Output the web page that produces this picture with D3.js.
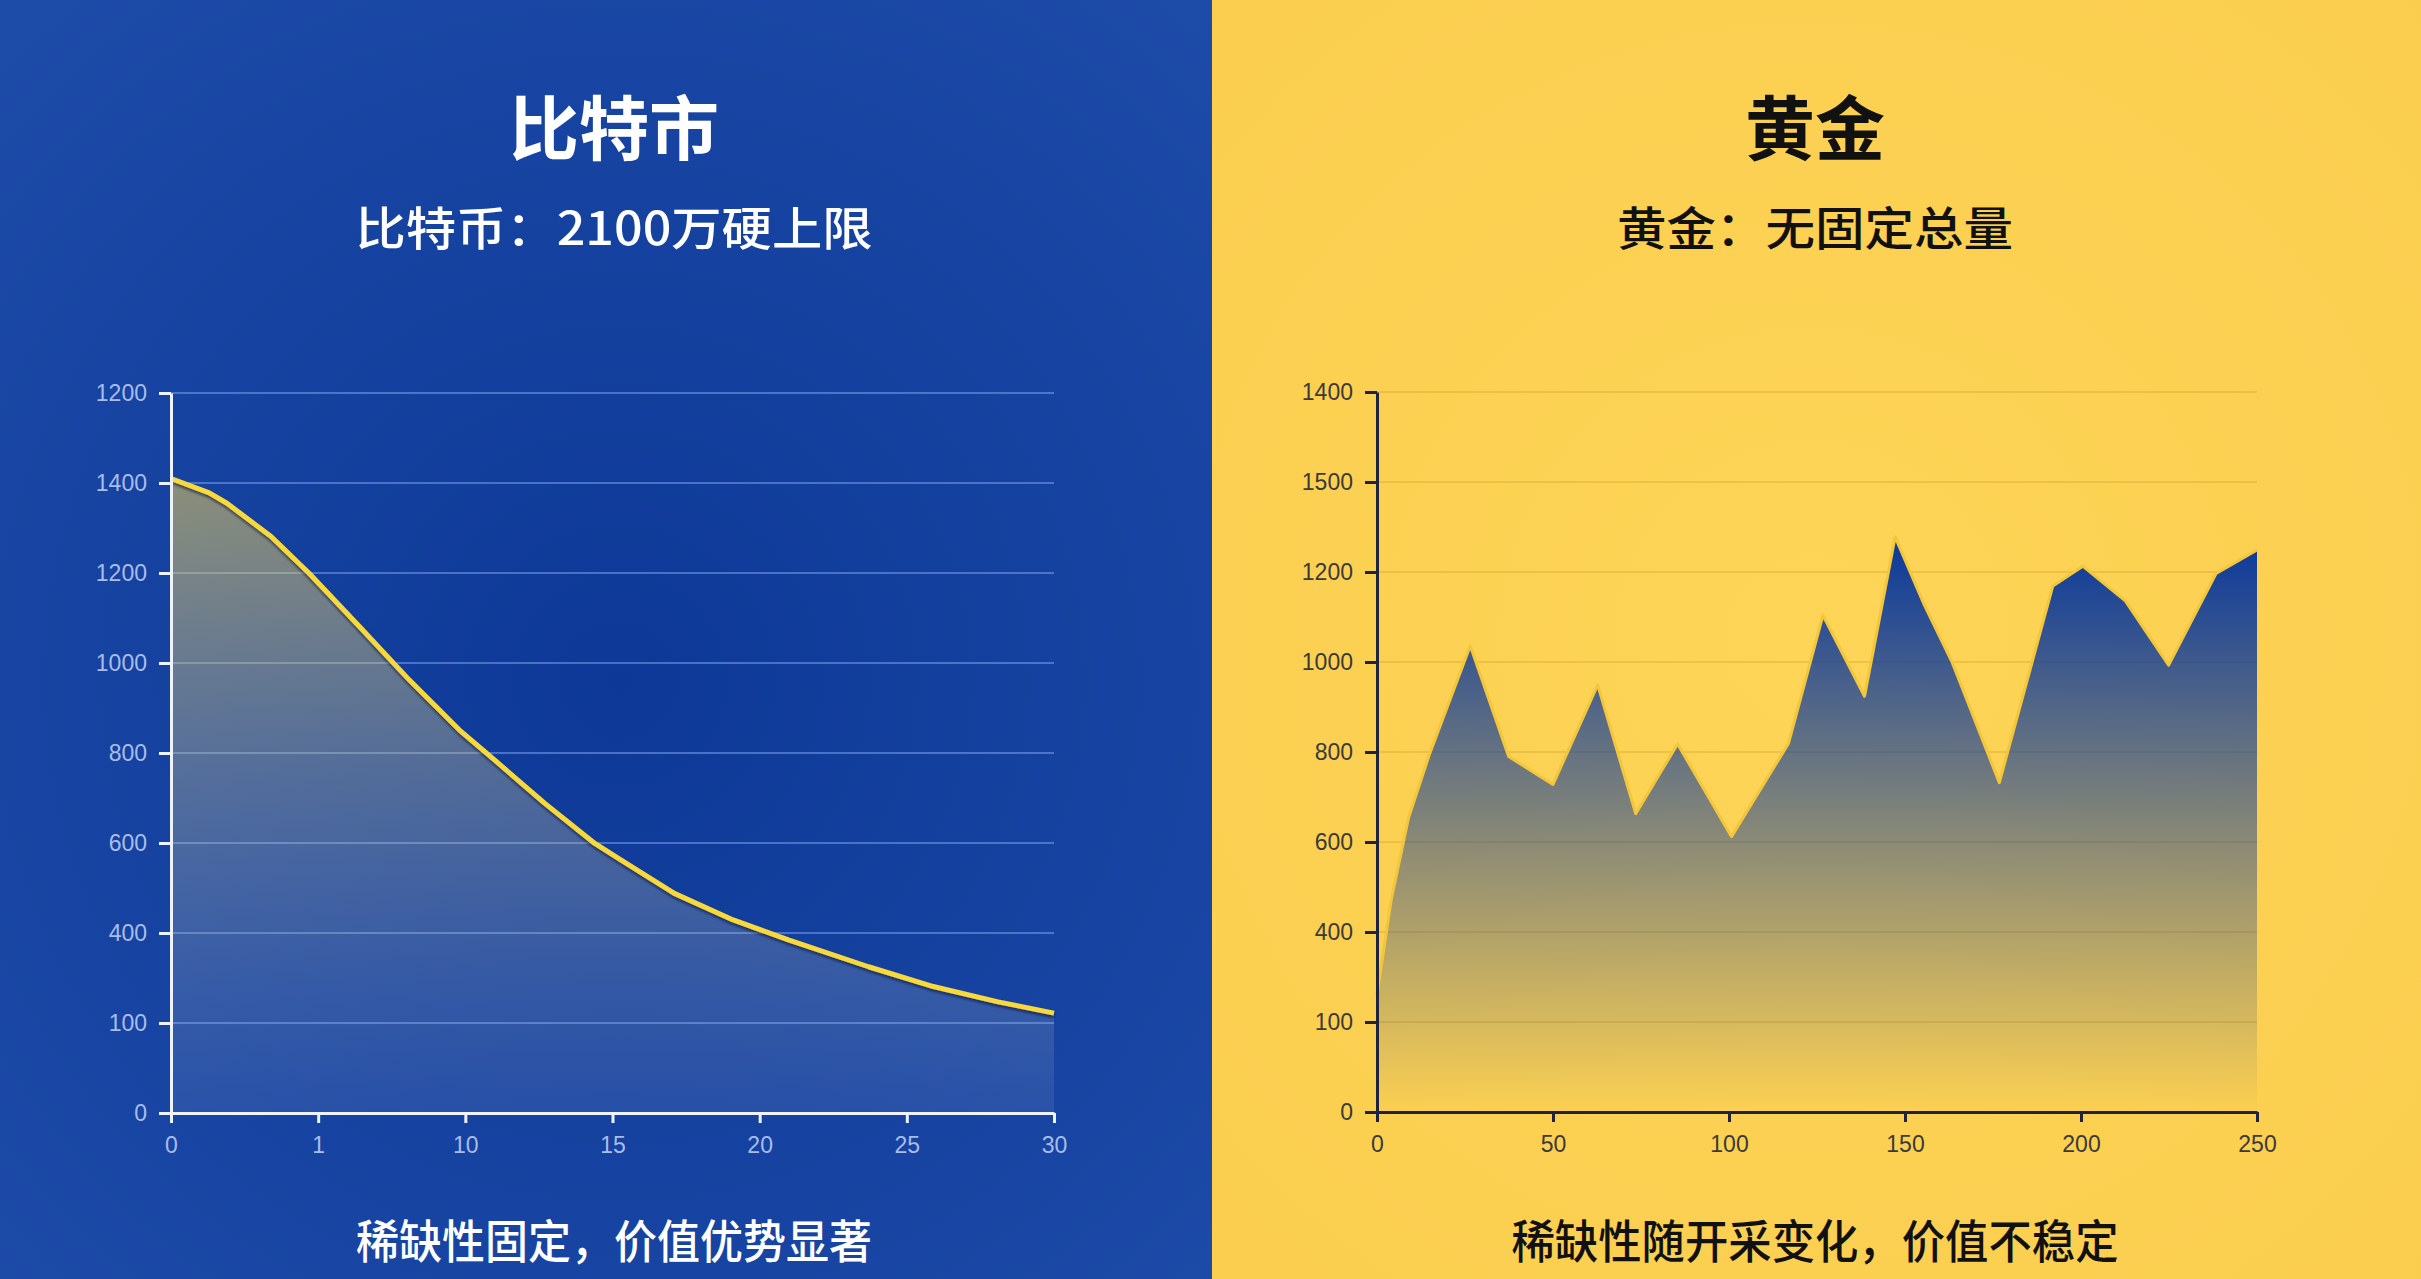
<!DOCTYPE html>
<html>
<head>
<meta charset="utf-8">
<script src="https://cdn.jsdelivr.net/npm/d3@7"></script>
<style>
  html, body { margin: 0; padding: 0; overflow: hidden; background: #123e98; }
  svg { display: block; }
  .cjk { font-family: "Noto Sans CJK SC", "Noto Sans", sans-serif; }
  .tick text { font-family: "Liberation Sans", Arial, sans-serif; font-size: 23px; }
</style>
</head>
<body>
<svg id="chart" width="2421" height="1279"></svg>
<script>
// bitcoin panel: supply curve (x in axis units, y in grid units of 200 per line)
const btcX = [0, 1.3, 1.9, 3.4, 4.7, 6.4, 8.1, 9.8, 11, 12.7, 14.4, 15.2, 17.1, 19.1, 21, 23.7, 25.9, 28.1, 30];
const btcY = [1410, 1378, 1355, 1281, 1199, 1081, 962, 851, 784, 688, 599, 566, 488, 429, 384, 325, 281, 247, 222];
const btcXTicks = ["0", "1", "10", "15", "20", "25", "30"];
const btcYTicks = ["0", "100", "400", "600", "800", "1000", "1200", "1400", "1200"];

// gold panel: jagged supply series
const goldX = [0, 4, 9, 15, 26.5, 37.4, 50, 62.7, 73.5, 85.4, 100.7, 116.9, 126.7, 138.5, 147.2, 155.3, 163.3, 176.8, 192, 200.5, 212.6, 224.9, 238.4, 250];
const goldY = [260, 470, 655, 797, 1036, 790, 728, 949, 663, 818, 612, 819, 1104, 924, 1278, 1130, 1001, 732, 1169, 1213, 1136, 993, 1197, 1249];
const goldXTicks = ["0", "50", "100", "150", "200", "250"];
const goldYTicks = ["0", "100", "400", "600", "800", "1000", "1200", "1500", "1400"];

const titles = ["比特市", "黄金"];
const subtitles = ["比特币：2100万硬上限", "黄金：无固定总量"];
const captions = ["稀缺性固定，价值优势显著", "稀缺性随开采变化，价值不稳定"];

const svg = d3.select("#chart");
const W = 2421, H = 1279, split = 1212;
const defs = svg.append("defs");

// backgrounds with soft vignette
const bgBlue = defs.append("radialGradient").attr("id", "bgBlue")
  .attr("gradientUnits", "userSpaceOnUse").attr("cx", 620).attr("cy", 680).attr("r", 900);
bgBlue.append("stop").attr("offset", 0).attr("stop-color", "#0d3897");
bgBlue.append("stop").attr("offset", 1).attr("stop-color", "#1d4ba8");

const bgGold = defs.append("radialGradient").attr("id", "bgGold")
  .attr("gradientUnits", "userSpaceOnUse").attr("cx", 1810).attr("cy", 640).attr("r", 900);
bgGold.append("stop").attr("offset", 0).attr("stop-color", "#fed557");
bgGold.append("stop").attr("offset", 1).attr("stop-color", "#facd4e");

svg.append("rect").attr("x", 0).attr("y", 0).attr("width", split).attr("height", H).attr("fill", "url(#bgBlue)");
svg.append("rect").attr("x", split).attr("y", 0).attr("width", W - split).attr("height", H).attr("fill", "url(#bgGold)");

// area gradients
const fillBtc = defs.append("linearGradient").attr("id", "fillBtc")
  .attr("gradientUnits", "userSpaceOnUse").attr("x1", 0).attr("x2", 0).attr("y1", 470).attr("y2", 1113);
fillBtc.append("stop").attr("offset", 0).attr("stop-color", "#f0cf55").attr("stop-opacity", 0.55);
fillBtc.append("stop").attr("offset", 1).attr("stop-color", "#a8b8d8").attr("stop-opacity", 0.12);

const fillGold = defs.append("linearGradient").attr("id", "fillGold")
  .attr("gradientUnits", "userSpaceOnUse").attr("x1", 0).attr("x2", 0).attr("y1", 540).attr("y2", 1112);
fillGold.append("stop").attr("offset", 0).attr("stop-color", "#0b399c").attr("stop-opacity", 1);
fillGold.append("stop").attr("offset", 1).attr("stop-color", "#0b399c").attr("stop-opacity", 0);

const shadow = defs.append("filter").attr("id", "lineShadow")
  .attr("x", "-5%").attr("y", "-5%").attr("width", "110%").attr("height", "110%");
shadow.append("feDropShadow").attr("dx", 0).attr("dy", 2).attr("stdDeviation", 1.5)
  .attr("flood-color", "#06153a").attr("flood-opacity", 0.7);

function drawPanel(opt) {
  const x = d3.scaleLinear().domain(opt.xDomain).range(opt.xRange);
  const y = d3.scaleLinear().domain([0, 1600]).range(opt.yRange);
  const yVals = d3.range(0, 1601, 200);
  const g = svg.append("g");

  // gridlines
  g.selectAll(".grid").data(yVals.slice(1)).join("line")
    .attr("x1", opt.xRange[0]).attr("x2", opt.xRange[1])
    .attr("y1", d => y(d)).attr("y2", d => y(d))
    .attr("stroke", opt.gridColor).attr("stroke-width", 2);

  const pts = opt.xs.map((v, i) => [v, opt.ys[i]]);
  const area = d3.area().x(d => x(d[0])).y0(y(0)).y1(d => y(d[1]));
  const line = d3.line().x(d => x(d[0])).y(d => y(d[1]));

  g.append("path").datum(pts).attr("d", area).attr("fill", opt.fill);
  if (opt.lineColor) {
    g.append("path").datum(pts).attr("d", line)
      .attr("fill", "none").attr("stroke", opt.lineColor)
      .attr("stroke-width", opt.lineWidth).attr("stroke-linejoin", "round")
      .attr("filter", opt.lineFilter || null);
  }

  const xTickVals = d3.range(opt.xTicks.length).map(i => opt.xDomain[0] + i * (opt.xDomain[1] - opt.xDomain[0]) / (opt.xTicks.length - 1));
  const xAxis = d3.axisBottom(x).tickValues(xTickVals).tickSize(10).tickSizeOuter(0).tickPadding(14)
    .tickFormat((d, i) => opt.xTicks[i]);
  const yAxis = d3.axisLeft(y).tickValues(yVals).tickSize(12).tickSizeOuter(0).tickPadding(12)
    .tickFormat((d, i) => opt.yTicks[i]);

  const gx = g.append("g").attr("transform", `translate(0,${y(0)})`).call(xAxis);
  const gy = g.append("g").attr("transform", `translate(${opt.xRange[0]},0)`).call(yAxis);
  [gx, gy].forEach(a => {
    a.select(".domain").attr("stroke", opt.axisColor).attr("stroke-width", 3);
    a.selectAll(".tick line").attr("stroke", opt.axisColor).attr("stroke-width", 3);
    a.selectAll(".tick text").attr("fill", opt.labelColor);
  });
  gx.selectAll(".tick text").attr("dy", "0.71em");
}

drawPanel({
  xs: btcX, ys: btcY, xTicks: btcXTicks, yTicks: btcYTicks,
  xDomain: [0, 30], xRange: [171, 1054], yRange: [1113, 393],
  gridColor: "rgba(120,160,235,0.55)", fill: "url(#fillBtc)",
  lineColor: "#f7d93c", lineWidth: 5, lineFilter: "url(#lineShadow)",
  axisColor: "#eef3ff", labelColor: "#a9bde9"
});

drawPanel({
  xs: goldX, ys: goldY, xTicks: goldXTicks, yTicks: goldYTicks,
  xDomain: [0, 250], xRange: [1377, 2257], yRange: [1112, 392],
  gridColor: "rgba(205,160,40,0.35)", fill: "url(#fillGold)",
  lineColor: "#f3c63c", lineWidth: 3,
  axisColor: "#1d2440", labelColor: "#3a3a3a"
});

// texts
const centers = [614, 1815];
const textColors = ["#ffffff", "#111111"];
const subW = [517, 396];
const capW = [516, 607];

centers.forEach((cx, i) => {
  svg.append("text").attr("class", "cjk").attr("x", cx).attr("y", 155)
    .attr("text-anchor", "middle").attr("font-size", 70).attr("font-weight", 700)
    .attr("fill", textColors[i]).text(titles[i]);
  svg.append("text").attr("class", "cjk").attr("x", cx).attr("y", 245)
    .attr("text-anchor", "middle").attr("font-size", 46).attr("font-weight", 500)
    .attr("textLength", subW[i]).attr("lengthAdjust", "spacingAndGlyphs")
    .attr("fill", textColors[i]).text(subtitles[i]);
  svg.append("text").attr("class", "cjk").attr("x", cx).attr("y", 1258)
    .attr("text-anchor", "middle").attr("font-size", 46).attr("font-weight", 500)
    .attr("textLength", capW[i]).attr("lengthAdjust", "spacingAndGlyphs")
    .attr("fill", textColors[i]).text(captions[i]);
});
</script>
</body>
</html>
